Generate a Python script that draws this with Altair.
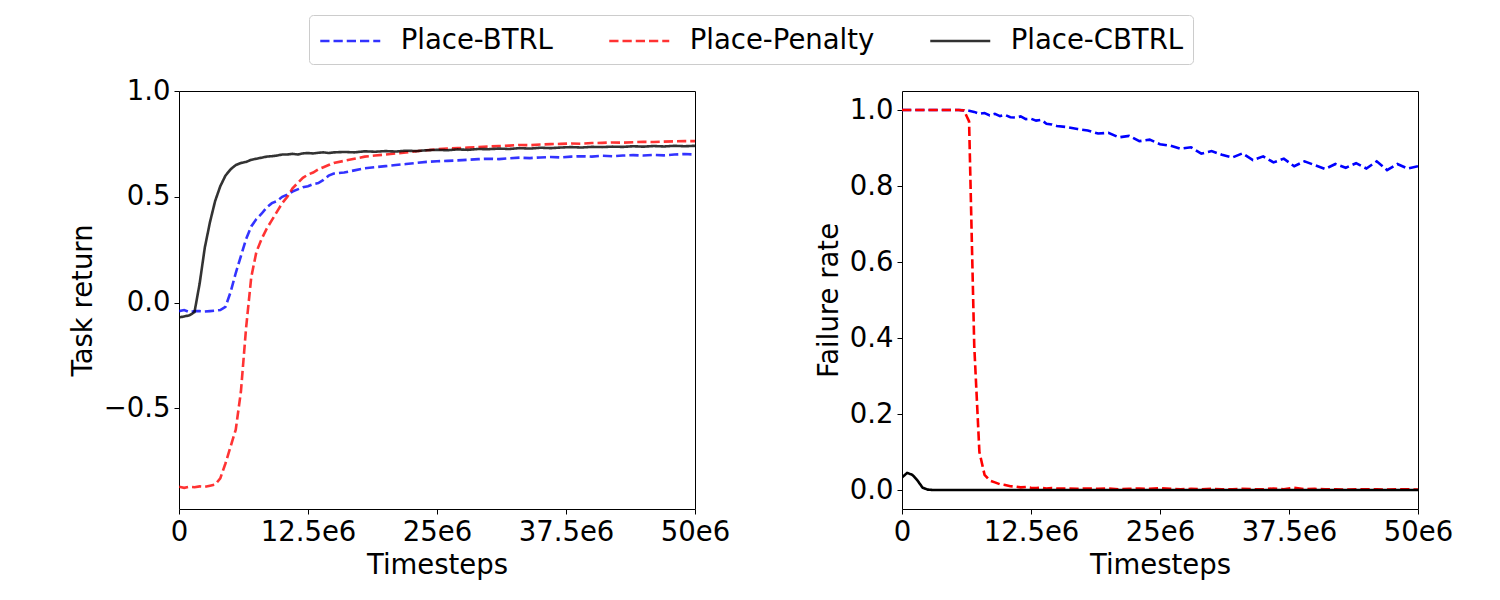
import altair as alt
import pandas as pd

# timesteps in millions
t = [0, 0.5, 1, 1.5, 2, 2.5, 3, 3.5, 4, 4.5, 5, 5.5, 6, 6.5, 7, 7.5, 8, 8.5, 9, 9.5,
     10, 10.5, 11, 11.5, 12, 12.5, 13, 13.5, 14, 14.5, 15,
     16, 17, 18, 19, 20, 21, 22, 23, 24, 25, 26, 27, 28, 29, 30, 31, 32, 33, 34, 35,
     36, 37, 38, 39, 40, 41, 42, 43, 44, 45, 46, 47, 48, 49, 50]

series_names = ["Place-BTRL", "Place-Penalty", "Place-CBTRL"]

# Task return (left panel)
ret_btrl = [-0.04, -0.035, -0.045, -0.04, -0.04, -0.042, -0.04, -0.038, -0.035, -0.02,
            0.05, 0.14, 0.22, 0.30, 0.36, 0.395, 0.42, 0.45, 0.47, 0.48,
            0.50, 0.51, 0.525, 0.535, 0.545, 0.55, 0.56, 0.565, 0.58, 0.60, 0.61,
            0.615, 0.625, 0.635, 0.64, 0.645, 0.65, 0.655, 0.66, 0.665, 0.668,
            0.67, 0.672, 0.675, 0.678, 0.68, 0.678, 0.682, 0.685, 0.683, 0.686,
            0.688, 0.686, 0.69, 0.692, 0.69, 0.694, 0.692, 0.695, 0.697, 0.695,
            0.698, 0.696, 0.70, 0.702, 0.70]
ret_penalty = [-0.87, -0.875, -0.87, -0.872, -0.868, -0.87, -0.865, -0.86, -0.83, -0.76,
               -0.68, -0.60, -0.42, -0.12, 0.12, 0.24, 0.30, 0.35, 0.39, 0.43,
               0.47, 0.50, 0.54, 0.565, 0.59, 0.605, 0.615, 0.63, 0.64, 0.65, 0.66,
               0.67, 0.68, 0.69, 0.695, 0.70, 0.705, 0.71, 0.715, 0.72, 0.725,
               0.728, 0.73, 0.733, 0.735, 0.738, 0.74, 0.742, 0.745, 0.744, 0.747,
               0.749, 0.75, 0.752, 0.751, 0.754, 0.755, 0.757, 0.756, 0.758, 0.76,
               0.759, 0.761, 0.762, 0.763, 0.763]
ret_cbtrl = [-0.07, -0.065, -0.06, -0.045, 0.09, 0.26, 0.38, 0.48, 0.55, 0.60,
             0.63, 0.65, 0.66, 0.665, 0.675, 0.68, 0.685, 0.69, 0.692, 0.695,
             0.70, 0.70, 0.703, 0.70, 0.705, 0.707, 0.705, 0.708, 0.71, 0.707, 0.71,
             0.712, 0.71, 0.715, 0.713, 0.716, 0.714, 0.718, 0.716, 0.72, 0.722,
             0.72, 0.724, 0.722, 0.726, 0.725, 0.728, 0.726, 0.73, 0.728, 0.732,
             0.73, 0.733, 0.735, 0.733, 0.736, 0.735, 0.737, 0.736, 0.739, 0.737,
             0.74, 0.738, 0.741, 0.739, 0.741]

# Failure rate (right panel)
fail_btrl = [1.0, 1.0, 1.0, 1.0, 1.0, 1.0, 1.0, 1.0, 1.0, 1.0,
             1.0, 1.0, 0.999, 0.998, 0.995, 0.99, 0.992, 0.986, 0.99, 0.984,
             0.987, 0.981, 0.98, 0.983, 0.976, 0.977, 0.972, 0.974, 0.964, 0.962, 0.958,
             0.955, 0.95, 0.946, 0.938, 0.94, 0.928, 0.932, 0.918, 0.922, 0.91,
             0.906, 0.898, 0.902, 0.885, 0.892, 0.882, 0.875, 0.886, 0.868, 0.878,
             0.862, 0.872, 0.852, 0.865, 0.855, 0.845, 0.858, 0.848, 0.86, 0.846,
             0.865, 0.842, 0.858, 0.846, 0.852]
fail_penalty = [1.0, 1.0, 1.0, 1.0, 1.0, 1.0, 1.0, 1.0, 1.0, 1.0,
                1.0, 1.0, 0.999, 0.97, 0.38, 0.10, 0.04, 0.025, 0.02, 0.015,
                0.013, 0.01, 0.009, 0.007, 0.008, 0.006, 0.005, 0.006, 0.004, 0.005, 0.004,
                0.004, 0.003, 0.004, 0.003, 0.004, 0.002, 0.003, 0.004, 0.003, 0.005,
                0.003, 0.002, 0.003, 0.002, 0.003, 0.002, 0.002, 0.003, 0.002, 0.002,
                0.004, 0.002, 0.006, 0.002, 0.003, 0.002, 0.002, 0.001, 0.002, 0.002,
                0.002, 0.001, 0.002, 0.002, 0.001]
fail_cbtrl = [0.033, 0.045, 0.04, 0.025, 0.006, 0.001, 0.0, 0.0, 0.0, 0.0,
              0.0, 0.0, 0.0, 0.0, 0.0, 0.0, 0.0, 0.0, 0.0, 0.0,
              0.0, 0.0, 0.0, 0.0, 0.0, 0.0, 0.0, 0.0, 0.0, 0.0, 0.0,
              0.0, 0.0, 0.0, 0.0, 0.0, 0.0, 0.0, 0.0, 0.0, 0.0,
              0.0, 0.0, 0.0, 0.0, 0.0, 0.0, 0.0, 0.0, 0.0, 0.0,
              0.0, 0.0, 0.0, 0.0, 0.0, 0.0, 0.0, 0.0, 0.0, 0.0,
              0.0, 0.0, 0.0, 0.0, 0.0]

x_ticks = [0, 12.5, 25, 37.5, 50]
left_y_ticks = [-0.5, 0.0, 0.5, 1.0]
right_y_ticks = [0.0, 0.2, 0.4, 0.6, 0.8, 1.0]


def make_df(vals_list):
    rows = []
    for name, vals in zip(series_names, vals_list):
        for i, (ti, v) in enumerate(zip(t, vals)):
            rows.append({"t": ti, "value": v, "series": name, "order": i})
    return pd.DataFrame(rows)


df_left = make_df([ret_btrl, ret_penalty, ret_cbtrl])
df_right = make_df([fail_btrl, fail_penalty, fail_cbtrl])

FONT = "DejaVu Sans"
FS = 27.5

legend = alt.Legend(
    title=None,
    orient="none",
    legendX=130,
    legendY=-76,
    direction="horizontal",
    symbolType="M-2,0H2",
    symbolSize=900,
    symbolOffset=15.25,
    symbolStrokeWidth=2.5,
    symbolOpacity=0.8,
    labelFontSize=FS,
    labelFont=FONT,
    labelColor="black",
    labelLimit=400,
    labelOffset=34,
    columnPadding=50,
    padding=9.5,
    strokeColor="#cccccc",
    fillColor="white",
    cornerRadius=4,
)

color = alt.Color(
    "series:N",
    scale=alt.Scale(domain=series_names, range=["blue", "red", "black"]),
    legend=legend,
)
dash = alt.StrokeDash(
    "series:N",
    scale=alt.Scale(domain=series_names, range=[[9.25, 4], [9.25, 4], [1, 0]]),
    legend=legend,
)

x_enc = alt.X(
    "t:Q",
    scale=alt.Scale(domain=[0, 50], nice=False, zero=False),
    axis=alt.Axis(
        values=x_ticks,
        labelExpr="datum.value == 0 ? '0' : datum.value + 'e6'",
        labelFlush=False,
        title="Timesteps",
    ),
)

left = alt.Chart(df_left).mark_line(strokeWidth=2.6, opacity=0.8, clip=True).encode(
    x=x_enc,
    y=alt.Y(
        "value:Q",
        scale=alt.Scale(domain=[-0.975, 1.0], nice=False, zero=False),
        axis=alt.Axis(values=left_y_ticks, format=".1f", title="Task return"),
    ),
    color=color,
    strokeDash=dash,
    order="order:Q",
).properties(width=516, height=418)

right = alt.Chart(df_right).mark_line(strokeWidth=2.6, opacity=1.0, clip=True).encode(
    x=x_enc,
    y=alt.Y(
        "value:Q",
        scale=alt.Scale(domain=[-0.05, 1.05], nice=False, zero=False),
        axis=alt.Axis(values=right_y_ticks, format=".1f", title="Failure rate"),
    ),
    color=color,
    strokeDash=dash,
    order="order:Q",
).properties(width=516, height=418)

chart = alt.hconcat(left, right, spacing=83).properties(
    padding={"left": 60, "top": 6, "right": 5, "bottom": 5},
    background="white",
).configure_view(
    stroke="black", strokeWidth=1
).configure_axis(
    grid=False,
    domain=False,
    labelFont=FONT,
    titleFont=FONT,
    labelFontSize=FS,
    titleFontSize=FS,
    labelColor="black",
    titleColor="black",
    titleFontWeight="normal",
    tickColor="black",
    tickSize=5,
    tickWidth=1,
    labelPadding=4,
    titlePadding=6,
)

chart.save("out.html", embed_options={"renderer": "svg", "actions": False})
